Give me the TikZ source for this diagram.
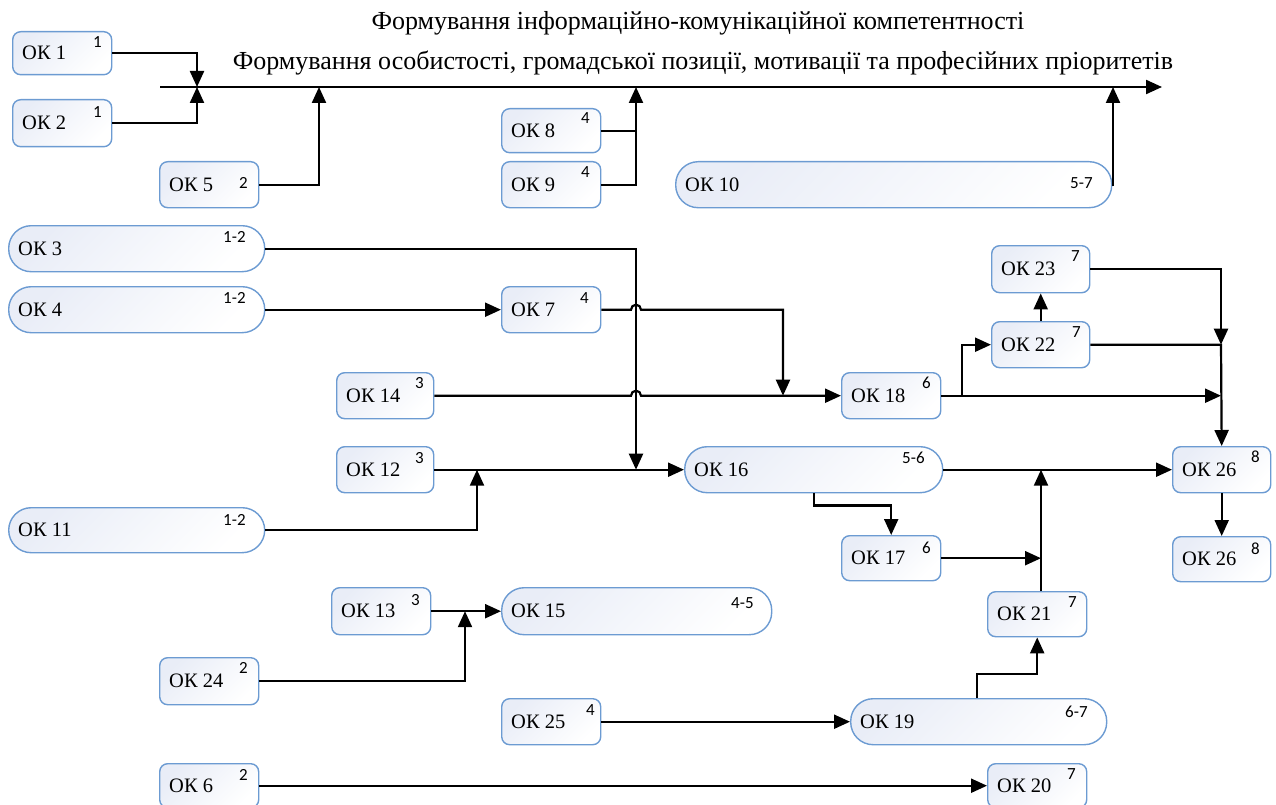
\documentclass[tikz,border=0pt]{standalone}
\usepackage{fontspec}
\setmainfont{Liberation Serif}
\newfontfamily\supfont{Carlito}
\usetikzlibrary{arrows.meta,calc}
\definecolor{bdr}{HTML}{6C9BD2}
\definecolor{fillA}{HTML}{E9EDF7}
\tikzset{
  okbox/.style={draw=bdr, line width=1.4pt, rounded corners=8pt, top color=fillA, bottom color=white, shading angle=45, inner sep=0pt},
  okpill/.style={okbox, rounded corners=22.5pt},
  lbl/.style={anchor=west, inner sep=0pt, font=\rmfamily\fontsize{20.5}{24}\selectfont},
  suplbl/.style={inner sep=0pt, font=\supfont\fontsize{17}{19}\selectfont},
  ttl/.style={inner sep=0pt, font=\rmfamily\fontsize{26}{30}\selectfont},
  conn/.style={line width=2.2pt, draw=black},
  arr/.style={conn, -{Triangle[length=16pt,width=14pt]}},
}
% name, style, x1, y1, x2, y2, text, sup, sup offset from north east
\newcommand\okb[9]{%
  \node[#2, anchor=north west, minimum width={#5-#3}, minimum height={#6-#4}] (#1) at (#3,#4) {};
  \node[lbl] (#1t) at ($(#1.west)+(10,0)$) {#7};
  \node[suplbl] (#1s) at ($(#1.north east)+#9$) {#8};
}
\begin{document}
\begin{tikzpicture}[x=1pt,y=-1pt]
\useasboundingbox (0,0) rectangle (1276,805);
% titles and main line
\node[ttl] (t1) at (698,23) {Формування інформаційно-комунікаційної компетентності};
\node[ttl] (t2) at (703,63) {Формування особистості, громадської позиції, мотивації та професійних пріоритетів};
\coordinate (ml0) at (160,87);
\coordinate (ml1) at (1162,87);
\draw[arr] (ml0) -- (ml1);
\coordinate (m1) at (197,87);
\coordinate (m5) at (319,87);
\coordinate (m8) at (636,87);
\coordinate (m10) at (1113,87);
\coordinate (jx) at (636,0);
\coordinate (jy) at (783,0);
\coordinate (jz) at (477,0);
\coordinate (jw) at (962,0);
\coordinate (jv) at (1221,0);
\coordinate (ju) at (1041,0);
\coordinate (jt) at (977,0);
\coordinate (js) at (465,0);
% boxes
\okb{ok1}{okbox}{12}{31}{111}{74}{ОК 1}{1}{(-15,11)}
\okb{ok2}{okbox}{12}{99}{111}{146}{ОК 2}{1}{(-15,13)}
\okb{ok5}{okbox}{159}{161}{258}{207}{ОК 5}{2}{(-16,22)}
\okb{ok8}{okbox}{501}{108}{600}{152}{ОК 8}{4}{(-16,10)}
\okb{ok9}{okbox}{501}{161}{600}{207}{ОК 9}{4}{(-16,11)}
\okb{ok10}{okpill}{675}{161}{1111}{207}{ОК 10}{5-7}{(-31,22)}
\okb{ok3}{okpill}{8}{225}{264}{271}{ОК 3}{1-2}{(-31,12)}
\okb{ok4}{okpill}{8}{286}{264}{332}{ОК 4}{1-2}{(-31,12)}
\okb{ok7}{okbox}{501}{286}{600}{332}{ОК 7}{4}{(-17,12)}
\okb{ok14}{okbox}{336}{372}{433}{418}{ОК 14}{3}{(-15,11)}
\okb{ok18}{okbox}{841}{372}{940}{418}{ОК 18}{6}{(-15,11)}
\okb{ok23}{okbox}{991}{245}{1089}{292}{ОК 23}{7}{(-15,11)}
\okb{ok22}{okbox}{991}{321}{1089}{367}{ОК 22}{7}{(-14,11)}
\okb{ok12}{okbox}{336}{446}{433}{492}{ОК 12}{3}{(-15,12)}
\okb{ok16}{okpill}{684}{446}{942}{492}{ОК 16}{5-6}{(-30,12)}
\okb{ok26a}{okbox}{1172}{446}{1270}{492}{ОК 26}{8}{(-16,11)}
\okb{ok11}{okpill}{8}{507}{264}{552}{ОК 11}{1-2}{(-31,13)}
\okb{ok17}{okbox}{841}{535}{940}{580}{ОК 17}{6}{(-15,13)}
\okb{ok26b}{okbox}{1172}{536}{1270}{581}{ОК 26}{8}{(-16,13)}
\okb{ok13}{okbox}{331}{587}{430}{634}{ОК 13}{3}{(-16,13)}
\okb{ok15}{okpill}{501}{587}{771}{634}{ОК 15}{4-5}{(-30,16)}
\okb{ok21}{okbox}{987}{591}{1086}{636}{ОК 21}{7}{(-15,11)}
\okb{ok24}{okbox}{159}{657}{258}{704}{ОК 24}{2}{(-16,11)}
\okb{ok25}{okbox}{501}{698}{600}{744}{ОК 25}{4}{(-11,12)}
\okb{ok19}{okpill}{850}{698}{1106}{744}{ОК 19}{6-7}{(-31,14)}
\okb{ok6}{okbox}{159}{763}{258}{807}{ОК 6}{2}{(-16,12)}
\okb{ok20}{okbox}{987}{763}{1086}{807}{ОК 20}{7}{(-16,11)}
% connectors to main line
\draw[arr] (ok1.east) -| (m1);
\draw[arr] (ok2.east) -| (m1);
\draw[arr] (ok5.east) -| (m5);
\draw[conn] (ok8.east) -- (ok8.east -| m8);
\draw[arr] (ok9.east) -| (m8);
\draw[arr] (ok10.east) -| (m10);
% middle network
\draw[arr] (ok3.east) -| (jx |- ok16.west);
\draw[arr] (ok4.east) -- (ok7.west);
\draw[arr] (ok7.east) -- ($(ok7.east -| jx)+(-5,0)$) arc[start angle=180, end angle=0, radius=5pt] -- (ok7.east -| jy) -- (jy |- ok18.west);
\draw[arr] (ok14.east) -- ($(ok14.east -| jx)+(-5,0)$) arc[start angle=180, end angle=0, radius=5pt] -- (ok18.west);
\draw[arr] (ok12.east) -- (ok16.west);
\draw[arr] (ok11.east) -| (jz |- ok12.east);
\draw[arr] (ok18.east) -- (jw |- ok18.east) |- (ok22.west);
\draw[arr] (ok18.east) -- (jv |- ok18.east);
\draw[arr] (ok22.north) -- (ok23.south);
\draw[arr] (ok23.east) -| (jv |- ok22.east);
\draw[arr] (ok22.east) -- (jv |- ok22.east) -- (ok26a.north);
\draw[arr] (ok16.east) -- (ok26a.west);
\draw[arr] (ok16.south) -- ++(0,12) -| (ok17.north);
\draw[arr] (ok17.east) -- (ju |- ok17.east);
\draw[arr] (ju |- ok21.north) -- (ju |- ok16.east);
\draw[arr] (jt |- ok19.north) -- ++(0,-24) -| (ok21.south);
\draw[arr] (ok26a.south) -- (ok26b.north);
\draw[arr] (ok13.east) -- (ok15.west);
\draw[arr] (ok24.east) -| (js |- ok13.east);
\draw[arr] (ok25.east) -- (ok19.west);
\draw[arr] (ok6.east) -- (ok20.west);
\end{tikzpicture}
\end{document}
